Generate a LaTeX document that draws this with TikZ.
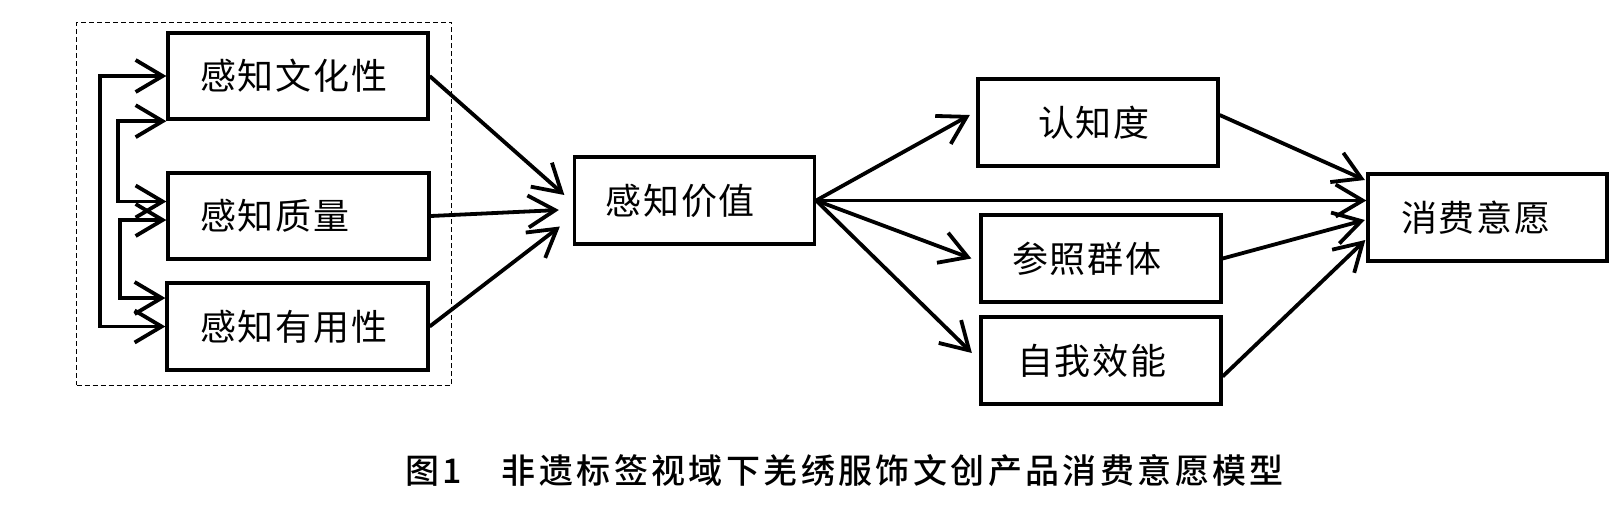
\documentclass[tikz,border=0pt]{standalone}
\usepackage{fontspec}
\usetikzlibrary{arrows.meta,calc}
\newfontfamily\cjklabel{Noto Sans CJK SC}[LetterSpace=5]
\newfontfamily\cjkcap{Noto Sans CJK SC Medium}[LetterSpace=10]
\tikzset{
  box/.style={draw, line width=3.3pt, minimum height=87pt, inner ysep=0pt, align=left,
    font=\cjklabel\fontsize{36}{36}\selectfont},
  arr/.style={line width=3.8pt, -{Straight Barb[length=27pt,width=32pt]}},
  biarr/.style={line width=3.8pt, {Straight Barb[length=27pt,width=32pt]}-{Straight Barb[length=27pt,width=32pt]}},
  frame/.style={draw, dash pattern=on 5pt off 3pt, line width=1.4pt, inner sep=0pt},
  caption/.style={inner sep=0pt, anchor=west, font=\cjkcap\fontsize{34}{34}\selectfont}
}
\begin{document}
\begin{tikzpicture}[x=1pt,y=-1pt]
\useasboundingbox[fill=white] (0,0) rectangle (1623,512);
% group frame
\node[frame, minimum width=375pt, minimum height=363pt] (grp) at (264.2,203.7) {};
% boxes
\node[box, minimum height=86pt, text width=196pt, inner xsep=32pt] (A) at (298,76) {感知文化性};
\node[box, minimum height=86pt, text width=197pt, inner xsep=32pt] (B) at (298.5,216) {感知质量};
\node[box, text width=195pt, inner xsep=33pt] (C) at (297.5,326.5) {感知有用性};
\node[box, text width=178pt, inner xsep=31pt] (D) at (694.5,200.5) {感知价值};
\node[box, text width=120pt, inner xsep=60pt] (E) at (1098,122.5) {认知度};
\node[box, text width=178pt, inner xsep=31pt] (F) at (1101,258.5) {参照群体};
\node[box, text width=168pt, inner xsep=36pt] (G) at (1101,360.5) {自我效能};
\node[box, text width=173pt, inner xsep=33pt] (H) at (1487.5,217.5) {消费意愿};
% correlations on the left
\draw[biarr] (A.west) -- ++(-66.5,0) |- (C.west);
\draw[biarr] ([yshift=-0.5pt]A.south west) -- ++(-48,0) |- ([yshift=14.5pt]B.west);
\draw[biarr] ([yshift=-4pt]B.west) -- ++(-46.5,0) |- ([yshift=28.5pt]C.west);
% into perceived value
\draw[arr] (A.east) -- ([xshift=-8.5pt,yshift=5.5pt]D.west);
\draw[arr] (B.east) -- ([xshift=-14pt,yshift=-9.5pt]D.west);
\draw[arr] (C.east) -- ([xshift=-13pt,yshift=-26pt]D.west);
% out of perceived value
\draw[arr] (D.east) -- ([xshift=-6.5pt,yshift=7.5pt]E.west);
\draw[arr] (D.east) -- (D.east -| H.west);
\draw[arr] (D.east) -- ([xshift=-8pt]F.west);
\draw[arr] (D.east) -- ([xshift=-7.5pt,yshift=7.5pt]G.west);
% into consumption intention
\draw[arr] ([yshift=7.5pt]E.east) -- ([xshift=-1.5pt,yshift=37.5pt]H.west);
\draw[arr] (F.east) -- ([xshift=-1.5pt,yshift=-2.5pt]H.west);
\draw[arr] ([yshift=-16pt]G.east) -- ([xshift=-1pt,yshift=-22.5pt]H.west);
% caption
\node[caption] (cap) at (405,471) {图1\hspace{40pt}非遗标签视域下羌绣服饰文创产品消费意愿模型};
\end{tikzpicture}
\end{document}
